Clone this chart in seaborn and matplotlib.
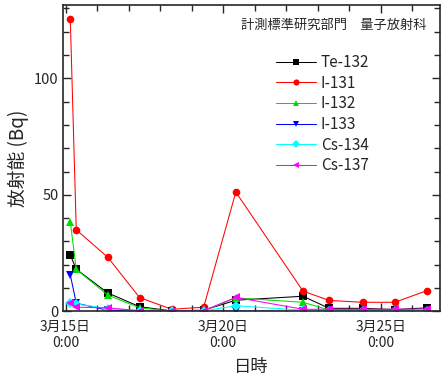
import numpy as np
import pandas as pd
import matplotlib
matplotlib.use("Agg")
import matplotlib.pyplot as plt
import seaborn as sns
from matplotlib.ticker import MultipleLocator

# measurement times (day of March)
days = [15.15, 15.34, 16.34, 17.35, 18.37, 19.38, 20.40, 22.53, 23.36, 24.42, 25.44, 26.46]

te132 = [24.2, 18.1, 7.9, 2.0, 0.2, 0.5, 4.8, 6.5, 1.3, 1.3, 0.8, 1.5]
i131 = [125.5, 35.0, 23.2, 5.9, 0.9, 1.8, 51.2, 8.7, 4.7, 3.9, 3.9, 8.9]
i132 = [38.5, 18.0, 7.0, 1.5, 0.1, 0.3, 5.8, 3.9, 0.6, 0.6, 0.4, 0.3]
i133 = [15.7, 3.5, 0.5, 0.1, 0.0, 0.0, 0.2, 0.0, 0.0, 0.0, 0.0, 0.0]
cs134 = [3.5, 3.2, 1.2, 0.3, 0.1, 0.2, 2.4, 0.5, 0.3, 0.3, 0.3, 0.3]
cs137 = [3.8, 1.8, 1.5, 0.3, 0.1, 0.3, 6.0, 0.9, 0.9, 0.9, 0.9, 1.0]

nuclides = ["Te-132", "I-131", "I-132", "I-133", "Cs-134", "Cs-137"]
series = [te132, i131, i132, i133, cs134, cs137]
colors = ["#000000", "#ff0000", "#00dd00", "#0000ff", "#00ffff", "#ff00ff"]
markers = ["s", "o", "^", "v", "D", "<"]

xtick_pos = [15, 20, 25]
xtick_labels = ["3月15日\n0:00", "3月20日\n0:00", "3月25日\n0:00"]

df = pd.concat([pd.DataFrame({"day": days, "value": v, "nuclide": n})
                for n, v in zip(nuclides, series)], ignore_index=True)

sns.set_style("ticks")
plt.rcParams["font.family"] = ["Noto Sans CJK JP", "DejaVu Sans"]

fig = plt.figure(figsize=(4.47, 3.83), dpi=100)
ax = fig.add_axes([0.141, 0.187, 0.843, 0.80])

sns.lineplot(data=df, x="day", y="value", hue="nuclide", style="nuclide",
             hue_order=nuclides, style_order=nuclides,
             palette=dict(zip(nuclides, colors)),
             markers=dict(zip(nuclides, markers)), dashes=False,
             markersize=5.5, markeredgewidth=0, linewidth=0.75, ax=ax)

ax.set_xlim(14.92, 26.87)
ax.set_ylim(0, 131.5)
ax.set_xticks(xtick_pos)
ax.set_xticklabels(xtick_labels, fontsize=10, linespacing=1.2)
ax.xaxis.set_minor_locator(MultipleLocator(1))
ax.set_yticks([0, 50, 100])
ax.yaxis.set_minor_locator(MultipleLocator(10))
ax.tick_params(axis="y", labelsize=10.5, pad=3)
ax.tick_params(axis="x", pad=6)
ax.tick_params(which="both", direction="in", top=True, right=True, width=1)
ax.tick_params(which="major", length=6)
ax.tick_params(which="minor", length=4)
for s in ax.spines.values():
    s.set_linewidth(1.2)

ax.set_xlabel("日時", fontsize=12.5, labelpad=6)
ax.set_ylabel("放射能 (Bq)", fontsize=13.5, labelpad=4)

ax.text(0.965, 0.935, "計測標準研究部門　量子放射科", transform=ax.transAxes,
        ha="right", va="center", fontsize=9.5)

ax.legend(loc="upper left", bbox_to_anchor=(0.53, 0.885), frameon=False,
          fontsize=11, handlelength=2.6, handletextpad=0.3, labelspacing=0.24,
          markerscale=0.8)

fig.savefig("out.png", dpi=100)
